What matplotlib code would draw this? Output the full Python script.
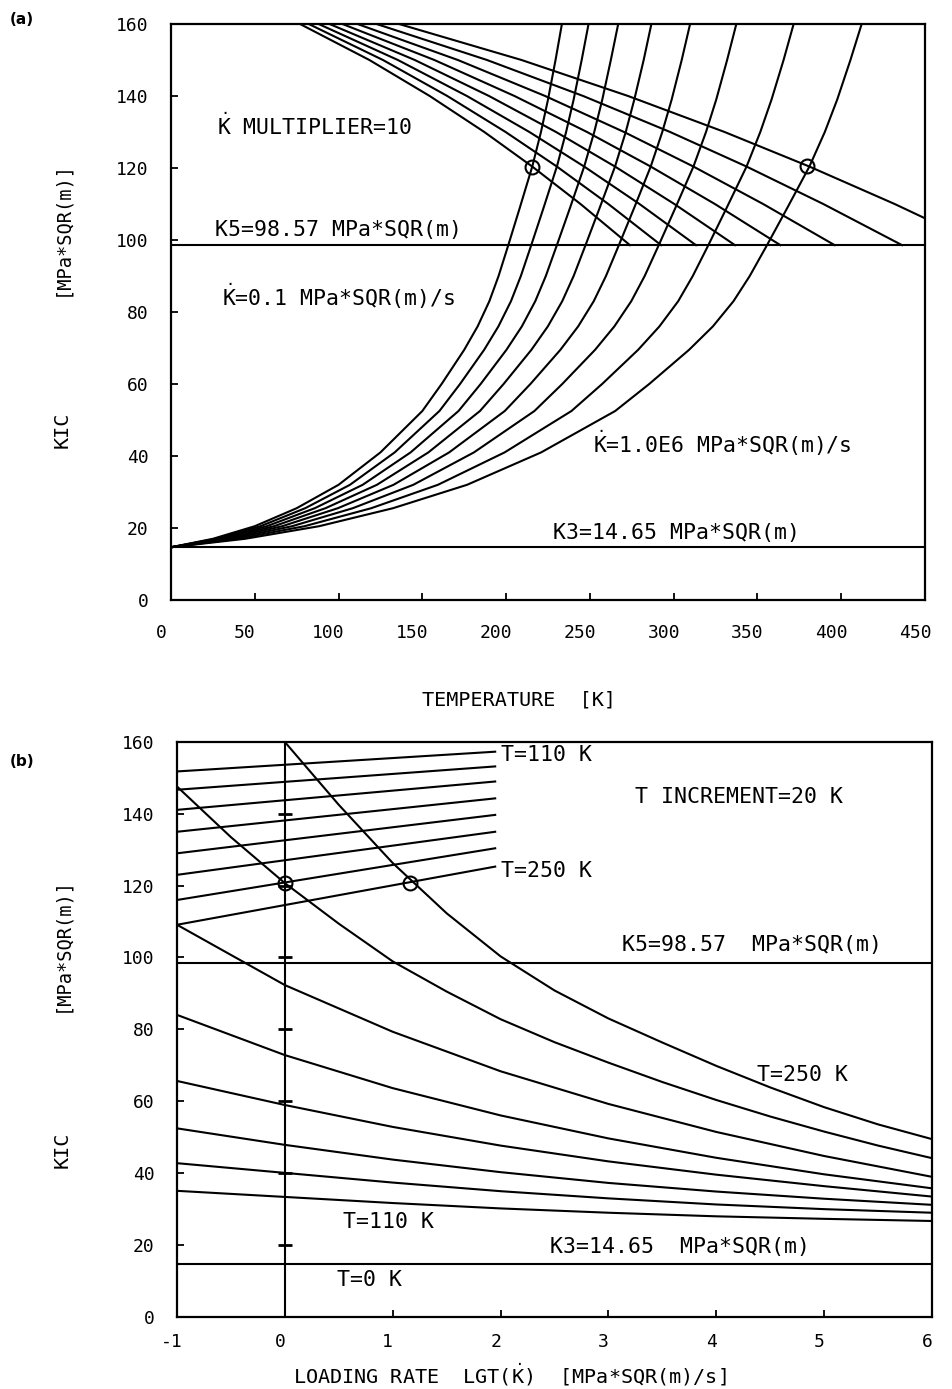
import matplotlib
matplotlib.use("Agg")
import matplotlib.pyplot as plt
from matplotlib.transforms import ScaledTranslation

plt.rcParams['font.family'] = ['DejaVu Sans Mono', 'DejaVu Sans']
plt.rcParams['mathtext.fontset'] = 'dejavusans'
plt.rcParams['axes.unicode_minus'] = False

# ---------------- constants ----------------
K3 = 14.65
K5 = 98.57

# ---------------- panel (a): KIC vs temperature, Kdot = 0.1 ... 1E6 ----------------
# lower (rising) branch: KIC levels and the temperature where each curve reaches them
rise_K = [14.65, 17.0, 20.5, 25.5, 32.0, 41.0, 52.5, 60.0, 69.5, 76.0, 83.0, 90.0,
          98.57, 109.0, 120.4, 130.0, 139.0, 150.0, 160.0]
rise_T_r01 = [0, 25.0, 50.0, 75.0, 100.0, 125.0, 150.0, 161.5, 175.0, 183.0, 190.0, 195.5,
              201.3, 208.2, 215.6, 220.8, 225.0, 229.5, 233.3]
rise_T_r1 = [0, 26.7, 53.4, 80.1, 106.8, 133.5, 160.2, 172.5, 186.9, 195.4, 202.9, 208.8,
             215.0, 222.4, 230.3, 235.8, 240.3, 245.1, 249.2]
rise_T_r10 = [0, 28.6, 57.2, 85.8, 114.4, 143.0, 171.6, 184.8, 200.2, 209.4, 217.4, 223.7,
              230.3, 238.2, 246.6, 252.6, 257.4, 262.5, 266.9]
rise_T_r1e2 = [0, 30.7, 61.5, 92.2, 122.9, 153.6, 184.4, 198.5, 215.1, 224.9, 233.5, 240.3,
               247.4, 255.9, 265.0, 271.4, 276.5, 282.1, 286.7]
rise_T_r1e3 = [0, 33.2, 66.4, 99.6, 132.8, 166.0, 199.2, 214.5, 232.4, 243.0, 252.3, 259.6,
               267.3, 276.5, 286.3, 293.2, 298.8, 304.8, 309.8]
rise_T_r1e4 = [0, 36.2, 72.3, 108.5, 144.6, 180.8, 216.9, 233.5, 253.1, 264.6, 274.7, 282.7,
               291.1, 301.1, 311.8, 319.3, 325.4, 331.9, 337.4]
rise_T_r1e5 = [0, 39.8, 79.7, 119.5, 159.3, 199.1, 239.0, 257.3, 278.8, 291.5, 302.7, 311.4,
               320.7, 331.7, 343.5, 351.7, 358.4, 365.6, 371.6]
rise_T_r1e6 = [0, 44.2, 88.4, 132.5, 176.7, 220.9, 265.1, 285.4, 309.2, 323.4, 335.7, 345.4,
               355.7, 367.9, 381.0, 390.2, 397.6, 405.5, 412.2]

# upper (falling) branch
fall_K = [160.0, 150.0, 140.0, 130.0, 120.4, 110.0, 98.57]
fall_T_r01 = [77.0, 118.4, 154.4, 187.0, 215.6, 244.4, 273.9]
fall_T_r1 = [82.2, 126.5, 164.9, 199.7, 230.3, 261.0, 292.5]
fall_T_r10 = [88.1, 135.4, 176.6, 213.9, 246.6, 279.6, 313.3]
fall_T_r1e2 = [94.6, 145.5, 189.8, 229.8, 265.0, 300.4, 336.6]
fall_T_r1e3 = [102.3, 157.2, 205.0, 248.3, 286.3, 324.6, 363.7]
fall_T_r1e4 = [111.3, 171.2, 223.3, 270.4, 311.8, 353.4, 396.1]
fall_T_r1e5 = [122.7, 188.6, 246.0, 297.9, 343.5, 389.3, 436.3]
fall_T_r1e6 = [136.1, 209.2, 272.8, 330.4, 381.0, 431.9, 484.0]

circle_a_T = [215.6, 379.3]
circle_a_K = [120.4, 120.6]

# ---------------- panel (b): KIC vs log10(Kdot), T = 110 ... 250 K ----------------
lg_int = [-1, 0, 1, 2, 3, 4, 5, 6]
low_T110 = [35.0, 33.3, 31.6, 30.1, 28.9, 27.9, 27.2, 26.6]
low_T130 = [42.7, 40.0, 37.3, 34.9, 32.9, 31.2, 29.9, 28.9]
low_T150 = [52.4, 47.8, 43.7, 40.2, 37.2, 34.8, 32.8, 31.1]
low_T170 = [65.6, 58.9, 52.8, 47.6, 43.2, 39.5, 36.3, 33.4]
low_T190 = [84.0, 72.8, 63.6, 56.0, 49.6, 44.2, 39.6, 35.7]
low_T210 = [109.1, 92.3, 79.3, 68.3, 59.2, 51.4, 44.7, 38.9]
lg_230 = [-1, -0.5, 0, 0.5, 1, 1.5, 2, 2.5, 3, 3.5, 4, 4.5, 5, 5.5, 6]
low_T230 = [147.6, 133.5, 120.7, 109.4, 98.9, 90.5, 82.8, 76.4, 70.7, 65.3, 60.3, 55.7, 51.5, 47.6, 44.1]
lg_250 = [0, 0.5, 1, 1.5, 2, 2.5, 3, 3.5, 4, 4.5, 5, 5.5, 6]
low_T250 = [160.0, 142.5, 126.3, 112.3, 100.3, 90.8, 83.0, 76.3, 69.8, 63.8, 58.3, 53.5, 49.4]

# upper (short) branch, from lg = -1 to 1.95
lg_up = [-1, 1.95]
up_T110 = [151.8, 157.3]
up_T130 = [146.7, 153.2]
up_T150 = [141.1, 149.0]
up_T170 = [135.0, 144.3]
up_T190 = [129.0, 139.7]
up_T210 = [123.0, 135.0]
up_T230 = [116.0, 130.4]
up_T250 = [109.1, 125.3]

circle_b_lg = [0.0, 1.16]
circle_b_K = [120.7, 120.7]
vmark_K = [20, 40, 60, 80, 100, 120, 140]

xticks_a = [0, 50, 100, 150, 200, 250, 300, 350, 400, 450]
yticks = [0, 20, 40, 60, 80, 100, 120, 140, 160]
xticks_b = [-1, 0, 1, 2, 3, 4, 5, 6]

# ---------------- figure ----------------
W, H = 953, 1389
fig = plt.figure(figsize=(W / 100, H / 100), dpi=100)
fig.patch.set_facecolor('white')

LW = 1.5
TXT = 15.5
AXT = 14.5
TICK = 13

def px_axes(l, t, r, b):
    return fig.add_axes([l / W, 1 - b / H, (r - l) / W, (b - t) / H])

axa = px_axes(171, 24, 925, 600)
axb = px_axes(177, 742, 932, 1316.5)

for ax in (axa, axb):
    for s in ax.spines.values():
        s.set_linewidth(1.6)
        s.set_color('black')
    ax.tick_params(direction='in', length=5, width=1.3, labelsize=TICK,
                   top=False, right=False)

# ---- panel (a)
for tl in (rise_T_r01, rise_T_r1, rise_T_r10, rise_T_r1e2,
           rise_T_r1e3, rise_T_r1e4, rise_T_r1e5, rise_T_r1e6):
    axa.plot(tl, rise_K, color='black', lw=LW)
for tl in (fall_T_r01, fall_T_r1, fall_T_r10, fall_T_r1e2,
           fall_T_r1e3, fall_T_r1e4, fall_T_r1e5, fall_T_r1e6):
    axa.plot(tl, fall_K, color='black', lw=LW)
axa.axhline(K5, color='black', lw=LW)
axa.axhline(K3, color='black', lw=LW)
axa.plot(circle_a_T, circle_a_K, 'o', ms=10, mfc='none', mec='black', mew=1.5)
axa.set_xlim(0, 450)
axa.set_ylim(0, 160)
axa.set_xticks(xticks_a)
axa.set_yticks(yticks)
axa.tick_params(axis='x', pad=17)
axa.tick_params(axis='y', pad=16)

axa.text(27.7, 131.9, r"$\dot{\mathtt{K}}$ MULTIPLIER=10", fontsize=TXT, va='center', ha='left')
axa.text(26.3, 102.8, "K5=98.57 MPa*SQR(m)", fontsize=TXT, va='center', ha='left')
axa.text(30.4, 84.3, r"$\dot{\mathtt{K}}$=0.1 MPa*SQR(m)/s", fontsize=TXT, va='center', ha='left')
axa.text(252.0, 43.5, r"$\dot{\mathtt{K}}$=1.0E6 MPa*SQR(m)/s", fontsize=TXT, va='center', ha='left')
axa.text(228.0, 18.5, "K3=14.65 MPa*SQR(m)", fontsize=TXT, va='center', ha='left')

# ---- panel (b)
for yl in (low_T110, low_T130, low_T150, low_T170, low_T190, low_T210):
    axb.plot(lg_int, yl, color='black', lw=LW)
axb.plot(lg_230, low_T230, color='black', lw=LW)
axb.plot(lg_250, low_T250, color='black', lw=LW)
for yl in (up_T110, up_T130, up_T150, up_T170, up_T190, up_T210, up_T230, up_T250):
    axb.plot(lg_up, yl, color='black', lw=LW)
axb.axhline(K5, color='black', lw=LW)
axb.axhline(K3, color='black', lw=LW)
axb.axvline(0, color='black', lw=LW)
axb.plot([0] * len(vmark_K), vmark_K, '_', ms=10, mew=2, color='black')
axb.plot(circle_b_lg, circle_b_K, 'o', ms=10, mfc='none', mec='black', mew=1.5)
axb.set_xlim(-1, 6)
axb.set_ylim(0, 160)
axb.set_xticks(xticks_b)
axb.set_yticks(yticks)
axb.tick_params(axis='x', pad=12)
axb.tick_params(axis='y', pad=16)

axb.text(2.0, 156.4, "T=110 K", fontsize=TXT, va='center', ha='left')
axb.text(3.25, 144.7, "T INCREMENT=20 K", fontsize=TXT, va='center', ha='left')
axb.text(2.0, 124.1, "T=250 K", fontsize=TXT, va='center', ha='left')
axb.text(3.125, 103.5, "K5=98.57  MPa*SQR(m)", fontsize=TXT, va='center', ha='left')
axb.text(4.38, 67.3, "T=250 K", fontsize=TXT, va='center', ha='left')
axb.text(0.54, 26.4, "T=110 K", fontsize=TXT, va='center', ha='left')
axb.text(2.46, 19.4, "K3=14.65  MPa*SQR(m)", fontsize=TXT, va='center', ha='left')
axb.text(0.48, 10.2, "T=0 K", fontsize=TXT, va='center', ha='left')

# shift x tick labels slightly left (plotter style)
for lab in axa.get_xticklabels():
    lab.set_transform(lab.get_transform() + ScaledTranslation(-0.10, 0, fig.dpi_scale_trans))
for lab in axb.get_xticklabels():
    lab.set_transform(lab.get_transform() + ScaledTranslation(-0.05, 0, fig.dpi_scale_trans))

# axis titles and panel letters
fig.text(519 / W, 1 - 700 / H, "TEMPERATURE  [K]", fontsize=AXT, ha='center', va='center')
fig.text(510 / W, 1 - 1375 / H, r"LOADING RATE  LGT($\dot{\mathtt{K}}$)  [MPa*SQR(m)/s]",
         fontsize=AXT, ha='center', va='center')
for yc_unit, yc_kic in ((228, 430), (945, 1150)):
    fig.text(62 / W, 1 - yc_unit / H, "[MPa*SQR(m)]", fontsize=13.5, rotation=90,
             ha='center', va='center')
    fig.text(62 / W, 1 - yc_kic / H, "KIC", fontsize=AXT, rotation=90,
             ha='center', va='center')
fig.text(22 / W, 1 - 20 / H, "(a)", fontsize=11, fontweight='bold', family='DejaVu Sans',
         ha='center', va='center')
fig.text(22 / W, 1 - 762 / H, "(b)", fontsize=11, fontweight='bold', family='DejaVu Sans',
         ha='center', va='center')

fig.savefig("out.png", dpi=100, facecolor='white')
